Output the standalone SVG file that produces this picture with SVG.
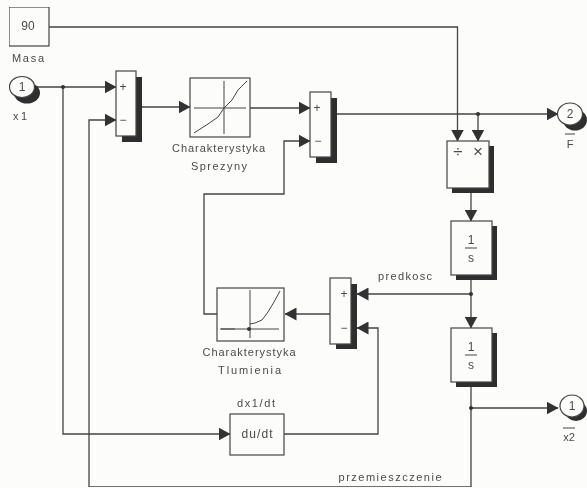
<svg xmlns="http://www.w3.org/2000/svg" width="587" height="488" viewBox="0 0 587 488">
<style>
.b{fill:#fcfcfa;stroke:#444;stroke-width:1.2}
.s{fill:#2e2e2e}
.w{fill:none;stroke:#444;stroke-width:1.3}
.g{fill:none;stroke:#444;stroke-width:1}
.d{fill:#333}
text{font-family:"Liberation Sans",Arial,sans-serif;font-size:11px;fill:#4a4a4a;text-anchor:middle}
.m{font-size:12px}
.o{font-size:17px}
</style>
<defs>
<marker id="a" viewBox="0 0 12 13" refX="11.500" refY="6.500" markerWidth="12" markerHeight="13" markerUnits="userSpaceOnUse" orient="auto"><path d="M0 0L12 6.500L0 13Z" fill="#333"/></marker>
<filter id="soft" x="0" y="0" width="100%" height="100%"><feGaussianBlur stdDeviation="0.35"/></filter>
</defs>
<rect width="587" height="488" fill="#fcfcfa"/>
<g filter="url(#soft)">
<g id="connectors">
<path class="w" marker-end="url(#a)" d="M49 27H457.500V141"/>
<path class="w" marker-end="url(#a)" d="M36 87H116"/>
<path class="w" marker-end="url(#a)" d="M63 87V434H230"/>
<path class="w" marker-end="url(#a)" d="M471 382V487H89V120H116"/>
<path class="w" marker-end="url(#a)" d="M142 107H190"/>
<path class="w" marker-end="url(#a)" d="M250 108H310"/>
<path class="w" marker-end="url(#a)" d="M217 314H204V194H284V141H310"/>
<path class="w" marker-end="url(#a)" d="M337 114H558"/>
<path class="w" marker-end="url(#a)" d="M478 114V141"/>
<path class="w" marker-end="url(#a)" d="M471 193V221"/>
<path class="w" d="M471 280V294"/>
<path class="w" marker-end="url(#a)" d="M471 294V328"/>
<path class="w" marker-end="url(#a)" d="M471 294H357"/>
<path class="w" marker-end="url(#a)" d="M284 434H378V328H357"/>
<path class="w" marker-end="url(#a)" d="M330 314H285"/>
<path class="w" marker-end="url(#a)" d="M471 408H558"/>
<circle class="d" cx="63" cy="87" r="2"/>
<circle class="d" cx="478" cy="114" r="2"/>
<circle class="d" cx="471" cy="294" r="2"/>
<circle class="d" cx="471" cy="408" r="2"/>
<text x="405" y="280" textLength="54">predkosc</text>
<text x="390" y="481" textLength="103">przemieszczenie</text>
</g>
<g id="masa">
<rect class="b" x="9" y="7" width="40" height="39"/>
<text class="m" x="28" y="30">90</text>
<text x="28" y="62" textLength="32">Masa</text>
</g>
<g id="x1">
<ellipse class="s" cx="27" cy="93" rx="13" ry="10.500"/>
<ellipse class="b" cx="22" cy="87" rx="12.500" ry="10.500"/>
<text class="m" x="22" y="91">1</text>
<text x="20" y="120" textLength="14">x1</text>
</g>
<g id="sum1">
<rect class="s" x="122" y="77" width="20" height="65"/>
<rect class="b" x="116" y="71" width="20" height="65"/>
<text class="m" x="123" y="91">+</text>
<text class="m" x="123" y="124">−</text>
</g>
<g id="sprezyny">
<rect class="b" x="190" y="78" width="60" height="59"/>
<path class="g" d="M194 108H246M224 81V134"/>
<path class="g" d="M194 133L208 124L218 117L224 108L232 100L238 90L247 81"/>
<text x="218.500" y="152" textLength="93">Charakterystyka</text>
<text x="219" y="170" textLength="56">Sprezyny</text>
</g>
<g id="sum2">
<rect class="s" x="316" y="98" width="21" height="65"/>
<rect class="b" x="310" y="92" width="21" height="65"/>
<text class="m" x="317" y="112">+</text>
<text class="m" x="318" y="145">−</text>
</g>
<g id="product">
<rect class="s" x="452" y="146" width="42" height="47"/>
<rect class="b" x="447" y="141" width="42" height="47"/>
<text class="o" x="458" y="157">÷</text>
<text class="o" x="478" y="157">×</text>
</g>
<g id="f">
<ellipse class="s" cx="575" cy="120" rx="12" ry="10.500"/>
<ellipse class="b" cx="570" cy="114" rx="12.500" ry="11"/>
<text class="m" x="570" y="118">2</text>
<text x="570" y="148">F</text>
<path class="g" d="M565 134H575"/>
</g>
<g id="int1">
<rect class="s" x="456" y="226" width="41" height="54"/>
<rect class="b" x="451" y="221" width="41" height="54"/>
<text class="m" x="471" y="244">1</text>
<path class="g" d="M465 248H477"/>
<text class="m" x="471" y="262">s</text>
</g>
<g id="int2">
<rect class="s" x="456" y="333" width="41" height="54"/>
<rect class="b" x="451" y="328" width="41" height="54"/>
<text class="m" x="471" y="351">1</text>
<path class="g" d="M465 355H477"/>
<text class="m" x="471" y="369">s</text>
</g>
<g id="sum3">
<rect class="s" x="336" y="284" width="21" height="65"/>
<rect class="b" x="330" y="278" width="21" height="66"/>
<text class="m" x="344" y="298">+</text>
<text class="m" x="344" y="332">−</text>
</g>
<g id="tlumienia">
<rect class="b" x="217" y="288" width="67" height="53"/>
<path class="g" d="M220 329H279M250 290V338"/>
<path class="g" d="M221 329H235M250 324L255 323L262 320L268 312L274 302L280 291" stroke-width="1.200"/>
<circle class="d" cx="249" cy="329" r="2"/>
<text x="249" y="356" textLength="93">Charakterystyka</text>
<text x="249.500" y="374" textLength="63">Tlumienia</text>
</g>
<g id="deriv">
<rect class="b" x="230" y="414" width="54" height="41"/>
<text class="m" x="257" y="438" textLength="31">du/dt</text>
<text x="256" y="407" textLength="38">dx1/dt</text>
</g>
<g id="x2">
<ellipse class="s" cx="576" cy="411" rx="11" ry="10"/>
<ellipse class="b" cx="572" cy="406" rx="12" ry="11"/>
<text class="m" x="572" y="410">1</text>
<text x="569" y="441">x2</text>
<path class="g" d="M563 428H575"/>
</g>
</g>
</svg>
